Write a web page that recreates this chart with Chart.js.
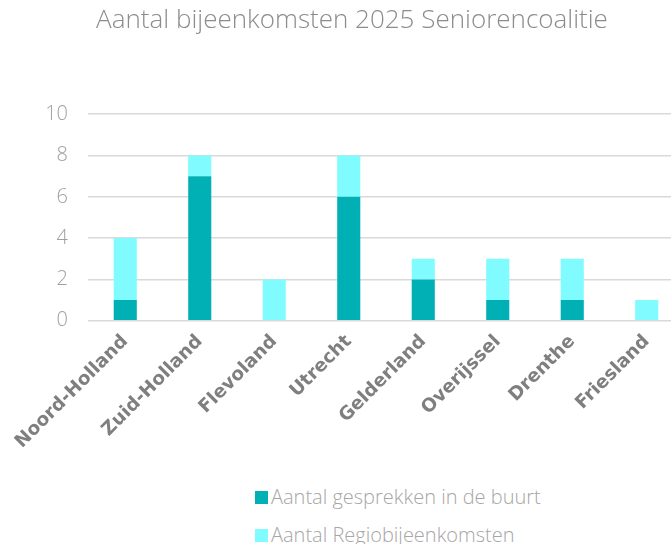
<!DOCTYPE html>
<html>
<head>
<meta charset="utf-8">
<script src="https://cdn.jsdelivr.net/npm/chart.js@4/dist/chart.umd.min.js"></script>
<style>
  html, body { margin: 0; padding: 0; background: #fff; overflow: hidden; }
  #wrap { position: relative; width: 704px; height: 544px; }
  #box { position: absolute; left: 0; top: 0; width: 704px; height: 455px; }
  #legenda { position: absolute; left: 255px; top: 482px; font-family: "Open Sans", sans-serif; font-weight: 300; font-size: 20px; color: #a6a6a6; }
  #legenda div { height: 38px; line-height: 30px; white-space: nowrap; }
  #legenda span.vak { display: inline-block; width: 13px; height: 13px; margin-right: 3px; vertical-align: 0px; }
</style>
</head>
<body>
<div id="wrap">
  <div id="box"><canvas id="grafiek"></canvas></div>
  <div id="legenda"></div>
</div>
<script>
var provincies = ['Noord-Holland', 'Zuid-Holland', 'Flevoland', 'Utrecht', 'Gelderland', 'Overijssel', 'Drenthe', 'Friesland'];
var gesprekken = [1, 7, 0, 6, 2, 1, 1, 0];
var regio = [3, 1, 2, 2, 1, 2, 2, 1];
var yTicks = [0, 2, 4, 6, 8, 10];

var kleurDonker = '#00b0b4';
var kleurLicht = '#80fbff';

var datasets = [
    { label: 'Aantal gesprekken in de buurt', data: gesprekken, backgroundColor: kleurDonker },
    { label: 'Aantal Regiobijeenkomsten', data: regio, backgroundColor: kleurLicht }
];

// legenda onder elkaar, zoals in het origineel
var leg = document.getElementById('legenda');
datasets.forEach(function(ds){
    var rij = document.createElement('div');
    rij.innerHTML = '<span class="vak" style="background:' + ds.backgroundColor + '"></span>' + ds.label;
    leg.appendChild(rij);
});

new Chart(document.getElementById('grafiek'), {
    type: 'bar',
    data: { labels: provincies, datasets: datasets.map(function(d){
        return Object.assign({}, d, { barPercentage: 0.31, categoryPercentage: 1 });
    }) },
    options: {
        responsive: true,
        maintainAspectRatio: false,
        animation: false,
        layout: { padding: { left: 20, right: 20, top: 0, bottom: 0 } },
        plugins: {
            legend: { display: false },
            tooltip: { enabled: false },
            title: {
                display: true,
                text: 'Aantal bijeenkomsten 2025 Seniorencoalitie',
                color: '#8c8c8c',
                font: { family: 'Open Sans', size: 26, weight: '300' },
                padding: { top: 5, bottom: 78 }
            }
        },
        scales: {
            x: {
                stacked: true,
                grid: { display: false },
                border: { display: false },
                ticks: {
                    color: '#7f7f7f',
                    font: { family: 'DejaVu Sans', size: 18.5, weight: 'bold' },
                    maxRotation: 45,
                    minRotation: 45,
                    padding: 2
                }
            },
            y: {
                stacked: true,
                min: 0,
                max: 10,
                afterBuildTicks: function(s){ s.ticks = yTicks.map(function(v){ return { value: v }; }); },
                afterFit: function(s){ s.width = 68; },
                grid: { color: '#d9d9d9', lineWidth: 1.5, drawTicks: false },
                border: { display: false },
                ticks: {
                    color: '#a0a0a0',
                    font: { family: 'Open Sans', size: 20, weight: '300' },
                    padding: 20
                }
            }
        }
    }
});
</script>
</body>
</html>
